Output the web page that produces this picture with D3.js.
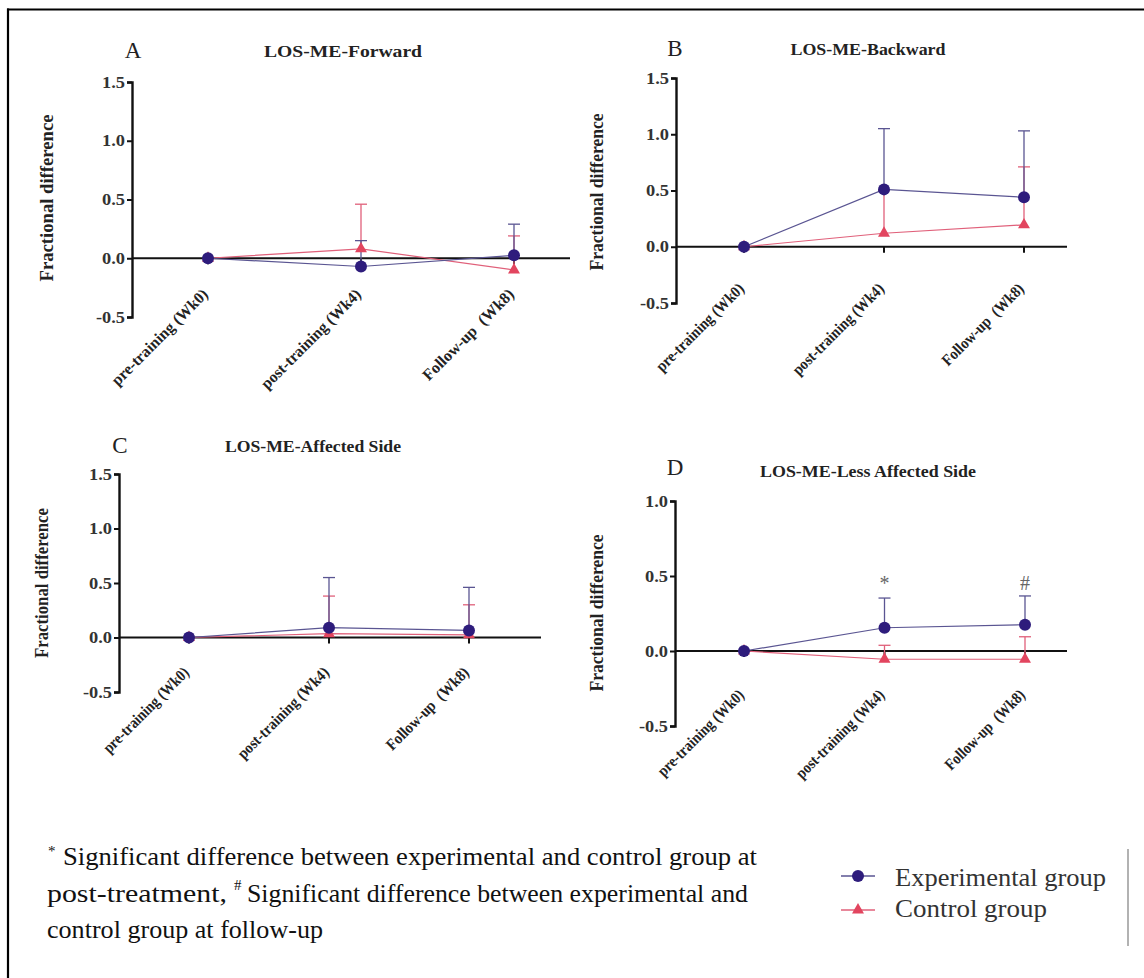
<!DOCTYPE html>
<html><head><meta charset="utf-8">
<script src="https://cdn.jsdelivr.net/npm/d3@7"></script>
<style>
body{margin:0;background:#fff}
svg{display:block}
</style>
</head><body>
<svg id="c" width="1144" height="978"></svg>
<script>
// ---------------- data ----------------
const categories = ["pre-training (Wk0)", "post-training (Wk4)", "Follow-up  (Wk8)"];
const panelLetters = ["A", "B", "C", "D"];
const panelTitles = ["LOS-ME-Forward", "LOS-ME-Backward", "LOS-ME-Affected Side", "LOS-ME-Less Affected Side"];
const yAxisLabel = "Fractional difference";
const seriesNames = ["Experimental group", "Control group"];

const yTicksA = [-0.5, 0, 0.5, 1.0, 1.5];
const yTicksB = [-0.5, 0, 0.5, 1.0, 1.5];
const yTicksC = [-0.5, 0, 0.5, 1.0, 1.5];
const yTicksD = [-0.5, 0, 0.5, 1.0];

// means and (upper) SD per time point
const expMeanA = [0, -0.07, 0.025];
const expSdA   = [0, 0.22, 0.265];
const ctlMeanA = [0, 0.08, -0.10];
const ctlSdA   = [0, 0.38, 0.29];

const expMeanB = [0, 0.51, 0.44];
const expSdB   = [0, 0.54, 0.59];
const ctlMeanB = [0, 0.12, 0.195];
const ctlSdB   = [0, 0.38, 0.515];

const expMeanC = [0, 0.09, 0.065];
const expSdC   = [0, 0.46, 0.395];
const ctlMeanC = [0, 0.035, 0.025];
const ctlSdC   = [0, 0.345, 0.275];

const expMeanD = [0, 0.155, 0.175];
const expSdD   = [0, 0.198, 0.192];
const ctlMeanD = [0, -0.055, -0.055];
const ctlSdD   = [0, 0.093, 0.15];

const sigLabelsD = ["", "*", "#"];
const sigLevelD  = [null, 0.41, 0.41];

const footLine1 = "Significant difference between experimental and control group at";
const footLine2a = "post-treatment,";
const footLine2b = "Significant difference between experimental and";
const footLine3 = "control group at follow-up";

// ---------------- layout / style ----------------
const SERIF = "'Liberation Serif', Tinos, 'Times New Roman', 'DejaVu Serif', serif";
const expColor = "#2e1c7c", expLine = "#5a5592";
const ctlColor = "#e2455f", ctlLine = "#e0607a";

const panels = [
  {ticks: yTicksA, exp: expMeanA, expSd: expSdA, ctl: ctlMeanA, ctlSd: ctlSdA,
   axisX: 132, top: 82, bottom: 317, x0: 208, x1: 514, end: 570,
   titleX: 343, titleY: 57, titleW: 158, letterX: 133, letterY: 58,
   ylabX: 53, ylabY: 198, ylabW: 167, labOff: 37, labW: [129, 134, 122]},
  {ticks: yTicksB, exp: expMeanB, expSd: expSdB, ctl: ctlMeanB, ctlSd: ctlSdB,
   axisX: 676, top: 78, bottom: 303, x0: 744, x1: 1024, end: 1067,
   titleX: 868, titleY: 55, titleW: 155, letterX: 675, letterY: 56,
   ylabX: 603, ylabY: 192, ylabW: 157, labOff: 43, labW: [117, 122, 109]},
  {ticks: yTicksC, exp: expMeanC, expSd: expSdC, ctl: ctlMeanC, ctlSd: ctlSdC,
   axisX: 119, top: 474, bottom: 692, x0: 189, x1: 469, end: 541,
   titleX: 313, titleY: 452, titleW: 176, letterX: 120, letterY: 453,
   ylabX: 48, ylabY: 583, ylabW: 150, labOff: 36, labW: [114, 122, 110]},
  {ticks: yTicksD, exp: expMeanD, expSd: expSdD, ctl: ctlMeanD, ctlSd: ctlSdD,
   axisX: 675, top: 501, bottom: 726, x0: 744, x1: 1025, end: 1067,
   titleX: 868, titleY: 477, titleW: 216, letterX: 675, letterY: 475,
   ylabX: 603, ylabY: 613, ylabW: 157, labOff: 45, labW: [115, 118, 106],
   sig: sigLabelsD, sigLevel: sigLevelD}
];

const svg = d3.select("#c");
svg.append("rect").attr("width", 1144).attr("height", 978).attr("fill", "#fff");

// frame (top and left)
svg.append("line").attr("x1", 7).attr("x2", 1144).attr("y1", 9.5).attr("y2", 9.5)
  .attr("stroke", "#000").attr("stroke-width", 2.2);
svg.append("line").attr("x1", 8).attr("x2", 8).attr("y1", 8.5).attr("y2", 978)
  .attr("stroke", "#000").attr("stroke-width", 2.2);

const tri = d3.symbol().type(d3.symbolTriangle).size(62);

panels.forEach((p, i) => {
  const g = svg.append("g");
  const dom = [d3.min(p.ticks), d3.max(p.ticks)];
  const y = d3.scaleLinear().domain(dom).range([p.bottom, p.top]);
  const x = d3.scalePoint().domain(categories).range([p.x0, p.x1]);
  const zeroY = y(0);

  // letter + title
  g.append("text").attr("x", p.letterX).attr("y", p.letterY).attr("text-anchor", "middle")
    .attr("font-size", 23).attr("fill", "#222").text(panelLetters[i]);
  g.append("text").attr("x", p.titleX).attr("y", p.titleY).attr("text-anchor", "middle")
    .attr("font-size", 17).attr("font-weight", "bold").attr("fill", "#222")
    .attr("textLength", p.titleW).attr("lengthAdjust", "spacingAndGlyphs")
    .text(panelTitles[i]);

  // y axis label
  g.append("text").attr("transform", `translate(${p.ylabX},${p.ylabY}) rotate(-90)`)
    .attr("text-anchor", "middle").attr("font-size", 18).attr("font-weight", "bold")
    .attr("fill", "#222").attr("textLength", p.ylabW).attr("lengthAdjust", "spacingAndGlyphs")
    .text(yAxisLabel);

  // y axis
  const ya = g.append("g").attr("transform", `translate(${p.axisX},0)`)
    .call(d3.axisLeft(y).tickValues(p.ticks).tickSize(5).tickSizeOuter(5)
      .tickFormat(d => d.toFixed(1)));
  ya.attr("font-family", null);
  ya.select(".domain").attr("stroke", "#111").attr("stroke-width", 2.4);
  ya.selectAll(".tick line").attr("stroke", "#111").attr("stroke-width", 2);
  ya.selectAll(".tick text")
    .attr("font-size", 16).attr("font-weight", "bold").attr("fill", "#333")
    .attr("x", -7)
    .attr("textLength", d => d < 0 ? 29 : 23).attr("lengthAdjust", "spacingAndGlyphs");

  // zero line (x axis)
  g.append("line").attr("x1", p.axisX).attr("x2", p.end).attr("y1", zeroY).attr("y2", zeroY)
    .attr("stroke", "#111").attr("stroke-width", 2.2);
  g.selectAll(".xt").data(categories).join("line").attr("class", "xt")
    .attr("x1", d => x(d)).attr("x2", d => x(d)).attr("y1", zeroY).attr("y2", zeroY + 6)
    .attr("stroke", "#111").attr("stroke-width", 2);

  // x labels
  g.selectAll(".xl").data(categories).join("text").attr("class", "xl")
    .attr("transform", d => `translate(${x(d) + 1},${zeroY + p.labOff}) rotate(-45)`)
    .attr("text-anchor", "end").attr("font-size", 16).attr("font-weight", "bold")
    .attr("fill", "#222").style("white-space", "pre")
    .attr("textLength", (d, j) => p.labW[j]).attr("lengthAdjust", "spacingAndGlyphs")
    .text(d => d);

  const series = [
    {mean: p.ctl, sd: p.ctlSd, color: ctlColor, line: ctlLine, kind: "tri"},
    {mean: p.exp, sd: p.expSd, color: expColor, line: expLine, kind: "circ"}
  ];
  const line = d3.line().x((d, j) => x(categories[j])).y(d => y(d));

  series.forEach(s => {
    g.append("path").attr("d", line(s.mean)).attr("fill", "none")
      .attr("stroke", s.line).attr("stroke-width", 1.2);
    const eb = g.append("g").attr("stroke", s.line).attr("stroke-width", 1.3);
    s.mean.forEach((m, j) => {
      if (!s.sd[j]) return;
      const cx = x(categories[j]);
      eb.append("line").attr("x1", cx).attr("x2", cx).attr("y1", y(m)).attr("y2", y(m + s.sd[j]));
      eb.append("line").attr("x1", cx - 6).attr("x2", cx + 6).attr("y1", y(m + s.sd[j])).attr("y2", y(m + s.sd[j]));
    });
  });
  series.forEach(s => {
    s.mean.forEach((m, j) => {
      const cx = x(categories[j]);
      if (s.kind === "circ") {
        g.append("circle").attr("cx", cx).attr("cy", y(m)).attr("r", 6).attr("fill", s.color);
      } else {
        g.append("path").attr("d", tri).attr("transform", `translate(${cx},${y(m)})`).attr("fill", s.color);
      }
    });
  });

  if (p.sig) {
    p.sig.forEach((lab, j) => {
      if (!lab) return;
      g.append("text").attr("x", x(categories[j])).attr("y", y(p.sigLevel[j]))
        .attr("text-anchor", "middle").attr("font-size", 20).attr("fill", "#666").text(lab);
    });
  }
});

// footnote
const fn = svg.append("g").attr("fill", "#111");
fn.append("text").attr("x", 48).attr("y", 856).attr("font-size", 15).text("*");
fn.append("text").attr("x", 63).attr("y", 865).attr("font-size", 26)
  .attr("textLength", 694).attr("lengthAdjust", "spacingAndGlyphs").text(footLine1);
fn.append("text").attr("x", 47).attr("y", 902).attr("font-size", 26)
  .attr("textLength", 180).attr("lengthAdjust", "spacingAndGlyphs").text(footLine2a);
fn.append("text").attr("x", 234).attr("y", 890).attr("font-size", 15).text("#");
fn.append("text").attr("x", 247).attr("y", 902).attr("font-size", 26)
  .attr("textLength", 501).attr("lengthAdjust", "spacingAndGlyphs").text(footLine2b);
fn.append("text").attr("x", 47).attr("y", 938).attr("font-size", 26)
  .attr("textLength", 276).attr("lengthAdjust", "spacingAndGlyphs").text(footLine3);

// legend
const lg = svg.append("g");
const legY = [876, 910];
const legW = [211, 152];
const legCol = [expColor, ctlColor];
const legLine = [expLine, ctlLine];
seriesNames.forEach((name, k) => {
  lg.append("line").attr("x1", 841).attr("x2", 875).attr("y1", legY[k]).attr("y2", legY[k])
    .attr("stroke", legLine[k]).attr("stroke-width", 1.5);
  if (k === 0) lg.append("circle").attr("cx", 858).attr("cy", legY[k]).attr("r", 6).attr("fill", legCol[k]);
  else lg.append("path").attr("d", tri).attr("transform", `translate(858,${legY[k]})`).attr("fill", legCol[k]);
  lg.append("text").attr("x", 895).attr("y", legY[k] + (k === 0 ? 10 : 7)).attr("font-size", 26)
    .attr("fill", "#333").attr("textLength", legW[k]).attr("lengthAdjust", "spacingAndGlyphs").text(name);
});
lg.append("line").attr("x1", 1128).attr("x2", 1128).attr("y1", 849).attr("y2", 946)
  .attr("stroke", "#999").attr("stroke-width", 1.5);

// serif font on every text element
svg.selectAll("text").attr("font-family", SERIF).style("font-family", SERIF);
</script>
</body></html>
